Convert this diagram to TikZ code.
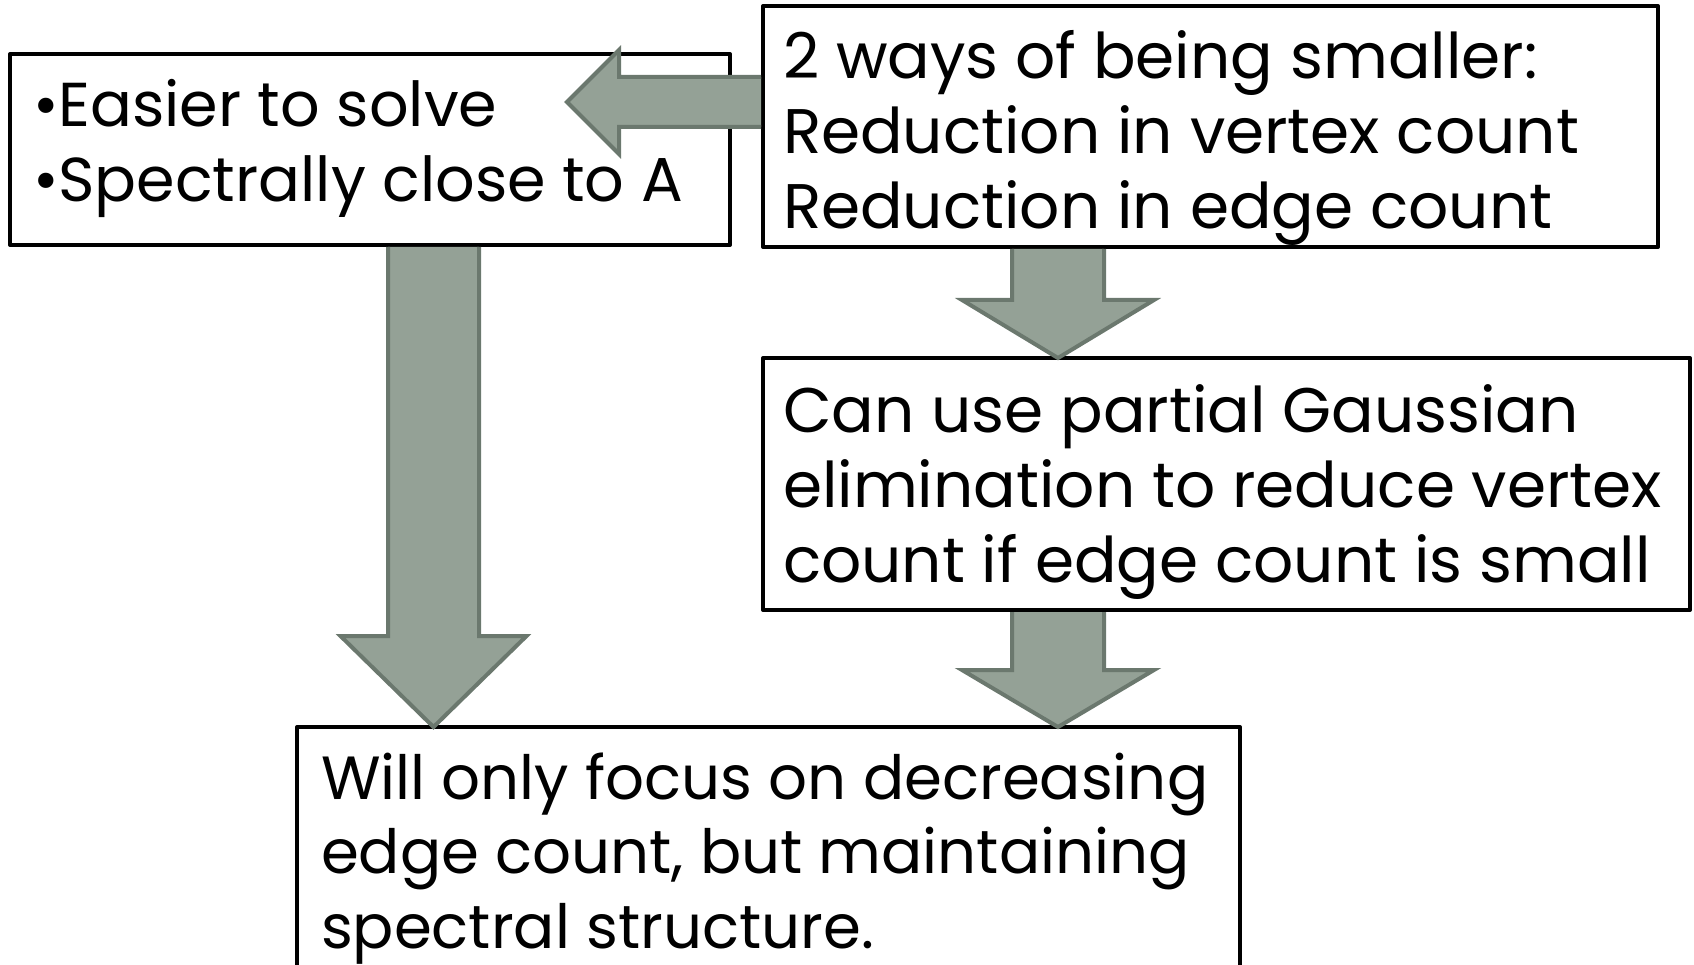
\documentclass[tikz,border=0pt]{standalone}
\usepackage{fontspec}
\setmainfont{Poppins}
\usetikzlibrary{calc}

\definecolor{arrowfill}{RGB}{148,161,150}
\definecolor{arrowedge}{RGB}{107,120,110}

\tikzset{
  box/.style={draw=black, fill=white, line width=4pt, line join=round,
    rectangle, inner sep=0pt, outer sep=0pt, anchor=north west},
  txt/.style={anchor=base west, inner sep=0pt, outer sep=0pt,
    font=\fontsize{#1}{75}\selectfont},
  txt/.default=63,
  arrowbody/.style={fill=arrowfill},
  arrowline/.style={draw=arrowedge, line width=4pt, line join=miter},
}

% block arrow: start, tip, shaft half-width, head half-width, head length
\newcommand{\blockarrow}[5]{%
  \coordinate (ba-s) at (#1);
  \coordinate (ba-e) at (#2);
  \coordinate (ba-h) at ($(ba-e)!#5!(ba-s)$);
  \fill[arrowbody] ($(ba-s)!#3!90:(ba-e)$) -- ($(ba-h)!#3!90:(ba-e)$)
    -- ($(ba-h)!#4!90:(ba-e)$) -- (ba-e) -- ($(ba-h)!#4!-90:(ba-e)$)
    -- ($(ba-h)!#3!-90:(ba-e)$) -- ($(ba-s)!#3!-90:(ba-e)$) -- cycle;
  \draw[arrowline] ($(ba-s)!#3!90:(ba-e)$) -- ($(ba-h)!#3!90:(ba-e)$)
    -- ($(ba-h)!#4!90:(ba-e)$) -- (ba-e) -- ($(ba-h)!#4!-90:(ba-e)$)
    -- ($(ba-h)!#3!-90:(ba-e)$) -- ($(ba-s)!#3!-90:(ba-e)$);
}

\begin{document}
\begin{tikzpicture}[x=1pt, y=-1pt]
  \useasboundingbox (0,0) rectangle (1694,965);
  \clip (0,0) rectangle (1694,965);

  % boxes
  \node[box, minimum width=720pt, minimum height=191pt] (A) at (10,54) {};
  \node[box, minimum width=895pt, minimum height=241pt] (B) at (763,6) {};
  \node[box, minimum width=927pt, minimum height=252pt] (C) at (763,358) {};
  \node[box, minimum width=943pt, minimum height=300pt] (D) at (297,727) {};

  % texts
  \node[txt=62] (a1) at ($(A.north west)+(23,73)$) {•Easier to solve};
  \node[txt=62] (a2) at ($(A.north west)+(23,148)$) {•Spectrally close to A};

  \node[txt] (b1) at ($(B.north west)+(20,73)$) {2 ways of being smaller:};
  \node[txt] (b2) at ($(B.north west)+(20,148)$) {Reduction in vertex count};
  \node[txt] (b3) at ($(B.north west)+(20,223)$) {Reduction in edge count};

  \node[txt] (c1) at ($(C.north west)+(20,74)$) {Can use partial Gaussian};
  \node[txt] (c2) at ($(C.north west)+(20,149)$) {elimination to reduce vertex};
  \node[txt] (c3) at ($(C.north west)+(20,224)$) {count if edge count is small};

  \node[txt=61] (d1) at ($(D.north west)+(24,72)$) {Will only focus on decreasing};
  \node[txt=61] (d2) at ($(D.north west)+(24,146)$) {edge count, but maintaining};
  \node[txt=61] (d3) at ($(D.north west)+(24,221)$) {spectral structure.};

  % connectors
  \blockarrow{$(B.north west)+(-2,96)$}{$(A.north east)+(-163,48)$}{25pt}{52pt}{52pt}
  \blockarrow{$(A.south west)+(423.5,2)$}{$(D.north west)+(136.5,0)$}{45.5pt}{93pt}{91pt}
  \blockarrow{$(B.south west)+(295,2)$}{$(C.north west)+(295,0)$}{46pt}{96pt}{58pt}
  \blockarrow{$(C.south west)+(295,2)$}{$(D.north west)+(761,0)$}{46pt}{96pt}{57pt}
\end{tikzpicture}
\end{document}
